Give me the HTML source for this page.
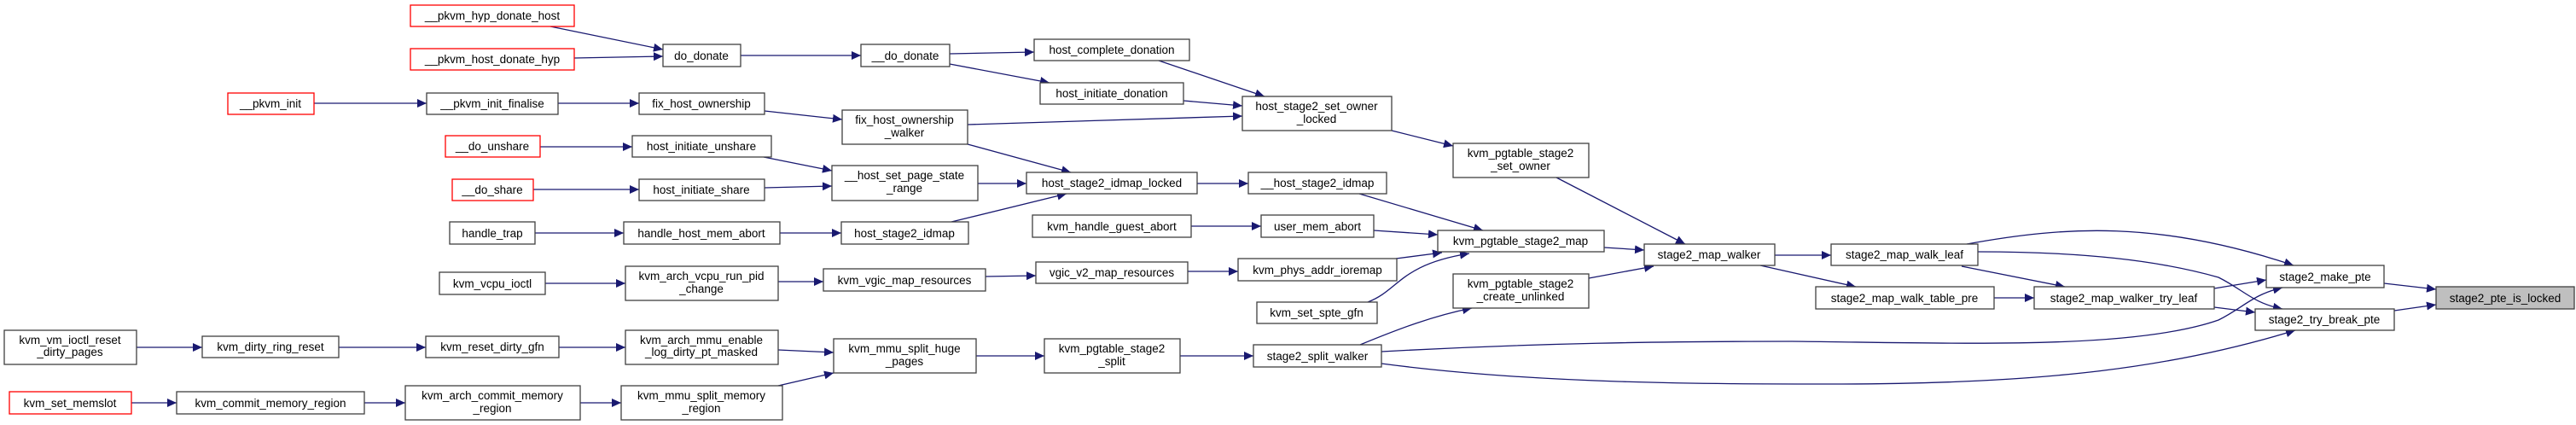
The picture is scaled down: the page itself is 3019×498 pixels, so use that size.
<!DOCTYPE html>
<html><head><meta charset="utf-8"><style>
html,body{margin:0;padding:0;background:#fff;}
svg{display:block}
text{font-family:"Liberation Sans",sans-serif;font-size:13.5px;fill:#000;text-anchor:middle}
.b{fill:#fff;stroke:#404040;stroke-width:1.3}
.r{fill:#fff;stroke:#ff0000;stroke-width:1.3}
.g{fill:#bfbfbf;stroke:#404040;stroke-width:1.3}
.e{fill:none;stroke:#191970;stroke-width:1.3;marker-end:url(#a)}
</style></head><body>
<svg width="3019" height="498" viewBox="0 0 3019 498" xmlns="http://www.w3.org/2000/svg">
<defs><marker id="a" markerUnits="userSpaceOnUse" markerWidth="12" markerHeight="10" refX="11" refY="5" orient="auto"><path d="M0,0 L11,5 L0,10 z" fill="#191970"/></marker></defs>
<g>
<path class="e" d="M645,31 L777,58"/>
<path class="e" d="M673,68 L777,66"/>
<path class="e" d="M368,121 L500,121"/>
<path class="e" d="M654,121 L749,121"/>
<path class="e" d="M633,172 L741,172"/>
<path class="e" d="M625,222 L749,222"/>
<path class="e" d="M627,273 L731,273"/>
<path class="e" d="M639,332 L733,332"/>
<path class="e" d="M160,407 L237,407"/>
<path class="e" d="M397,407 L499,407"/>
<path class="e" d="M655,407 L733,407"/>
<path class="e" d="M154,472 L207,472"/>
<path class="e" d="M427,472 L475,472"/>
<path class="e" d="M680,472 L728,472"/>
<path class="e" d="M868,65 L1009,65"/>
<path class="e" d="M1113,63 L1212,61"/>
<path class="e" d="M1113,75 L1230,97"/>
<path class="e" d="M1358,71 L1482,113"/>
<path class="e" d="M1387,118 L1456,124"/>
<path class="e" d="M1134,146 L1456,136"/>
<path class="e" d="M896,130 L987,140"/>
<path class="e" d="M1134,169 L1255,202"/>
<path class="e" d="M895,184 L975,200"/>
<path class="e" d="M896,220 L975,218"/>
<path class="e" d="M1146,215 L1203,215"/>
<path class="e" d="M1115,260 L1250,227"/>
<path class="e" d="M914,273 L986,273"/>
<path class="e" d="M1403,215 L1463,215"/>
<path class="e" d="M1593,227 L1738,270"/>
<path class="e" d="M1396,265 L1478,265"/>
<path class="e" d="M1610,270 L1685,275"/>
<path class="e" d="M1636,303 L1690,296"/>
<path class="e" d="M1603,354 C1640,340 1640,310 1722,297"/>
<path class="e" d="M912,330 L965,330"/>
<path class="e" d="M1155,324 L1214,323"/>
<path class="e" d="M1392,318 L1451,318"/>
<path class="e" d="M1631,153 L1703,171"/>
<path class="e" d="M1824,208 L1975,286"/>
<path class="e" d="M1880,290 L1927,293"/>
<path class="e" d="M1862,326 L1938,312"/>
<path class="e" d="M2080,299 L2146,299"/>
<path class="e" d="M2063,311 L2175,336"/>
<path class="e" d="M1594,404 C1640,385 1680,370 1725,361"/>
<path class="e" d="M912,410 L977,413"/>
<path class="e" d="M912,452 L977,437"/>
<path class="e" d="M1144,417 L1224,417"/>
<path class="e" d="M1383,417 L1469,417"/>
<path class="e" d="M2305,286 C2420,265 2530,258 2688,311"/>
<path class="e" d="M2318,295 C2440,295 2530,305 2600,325 C2630,340 2640,355 2675,362"/>
<path class="e" d="M2299,312 L2420,336"/>
<path class="e" d="M2337,349 L2384,349"/>
<path class="e" d="M2595,338 L2656,328"/>
<path class="e" d="M2595,360 L2643,366"/>
<path class="e" d="M1619,412 C1800,402 1950,400 2100,400 C2300,402 2500,410 2600,375 C2630,360 2640,345 2675,337"/>
<path class="e" d="M1619,426 C1800,450 2000,450 2150,450 C2400,450 2550,430 2690,387"/>
<path class="e" d="M2794,332 L2855,339"/>
<path class="e" d="M2806,364 L2855,357"/>
</g>
<g>
<rect class="r" x="481" y="6" width="192" height="25"/><text x="577" y="23">__pkvm_hyp_donate_host</text>
<rect class="r" x="481" y="57" width="192" height="25"/><text x="577" y="74">__pkvm_host_donate_hyp</text>
<rect class="r" x="267" y="109" width="101" height="25"/><text x="317" y="126">__pkvm_init</text>
<rect class="b" x="500" y="109" width="154" height="25"/><text x="577" y="126">__pkvm_init_finalise</text>
<rect class="r" x="522" y="159" width="111" height="25"/><text x="577" y="176">__do_unshare</text>
<rect class="r" x="530" y="210" width="95" height="25"/><text x="577" y="227">__do_share</text>
<rect class="b" x="527" y="260" width="100" height="26"/><text x="577" y="278">handle_trap</text>
<rect class="b" x="515" y="319" width="124" height="26"/><text x="577" y="337">kvm_vcpu_ioctl</text>
<rect class="b" x="5" y="387" width="155" height="40"/><text x="82" y="403">kvm_vm_ioctl_reset</text><text x="82" y="417">_dirty_pages</text>
<rect class="b" x="237" y="394" width="160" height="25"/><text x="317" y="411">kvm_dirty_ring_reset</text>
<rect class="b" x="499" y="394" width="156" height="25"/><text x="577" y="411">kvm_reset_dirty_gfn</text>
<rect class="r" x="11" y="459" width="143" height="26"/><text x="82" y="477">kvm_set_memslot</text>
<rect class="b" x="207" y="459" width="220" height="26"/><text x="317" y="477">kvm_commit_memory_region</text>
<rect class="b" x="475" y="452" width="205" height="40"/><text x="577" y="468">kvm_arch_commit_memory</text><text x="577" y="483">_region</text>
<rect class="b" x="777" y="52" width="91" height="26"/><text x="822" y="70">do_donate</text>
<rect class="b" x="1009" y="52" width="104" height="26"/><text x="1061" y="70">__do_donate</text>
<rect class="b" x="1212" y="46" width="182" height="25"/><text x="1303" y="63">host_complete_donation</text>
<rect class="b" x="1219" y="97" width="168" height="25"/><text x="1303" y="114">host_initiate_donation</text>
<rect class="b" x="1456" y="113" width="175" height="40"/><text x="1543" y="129">host_stage2_set_owner</text><text x="1543" y="144">_locked</text>
<rect class="b" x="749" y="109" width="147" height="25"/><text x="822" y="126">fix_host_ownership</text>
<rect class="b" x="987" y="129" width="147" height="40"/><text x="1060" y="145">fix_host_ownership</text><text x="1060" y="160">_walker</text>
<rect class="b" x="741" y="159" width="163" height="25"/><text x="822" y="176">host_initiate_unshare</text>
<rect class="b" x="975" y="194" width="171" height="41"/><text x="1060" y="210">__host_set_page_state</text><text x="1060" y="225">_range</text>
<rect class="b" x="749" y="210" width="147" height="25"/><text x="822" y="227">host_initiate_share</text>
<rect class="b" x="1203" y="202" width="200" height="25"/><text x="1303" y="219">host_stage2_idmap_locked</text>
<rect class="b" x="1463" y="202" width="162" height="25"/><text x="1544" y="219">__host_stage2_idmap</text>
<rect class="b" x="731" y="260" width="183" height="26"/><text x="822" y="278">handle_host_mem_abort</text>
<rect class="b" x="986" y="260" width="149" height="26"/><text x="1060" y="278">host_stage2_idmap</text>
<rect class="b" x="1210" y="252" width="186" height="26"/><text x="1303" y="270">kvm_handle_guest_abort</text>
<rect class="b" x="1478" y="252" width="132" height="26"/><text x="1544" y="270">user_mem_abort</text>
<rect class="b" x="733" y="312" width="179" height="40"/><text x="822" y="328">kvm_arch_vcpu_run_pid</text><text x="822" y="343">_change</text>
<rect class="b" x="965" y="315" width="190" height="26"/><text x="1060" y="333">kvm_vgic_map_resources</text>
<rect class="b" x="1214" y="307" width="178" height="25"/><text x="1303" y="324">vgic_v2_map_resources</text>
<rect class="b" x="1451" y="303" width="186" height="26"/><text x="1544" y="321">kvm_phys_addr_ioremap</text>
<rect class="b" x="1473" y="354" width="141" height="25"/><text x="1543" y="371">kvm_set_spte_gfn</text>
<rect class="b" x="733" y="387" width="179" height="40"/><text x="822" y="403">kvm_arch_mmu_enable</text><text x="822" y="417">_log_dirty_pt_masked</text>
<rect class="b" x="977" y="397" width="167" height="40"/><text x="1060" y="413">kvm_mmu_split_huge</text><text x="1060" y="428">_pages</text>
<rect class="b" x="1224" y="397" width="159" height="40"/><text x="1303" y="413">kvm_pgtable_stage2</text><text x="1303" y="428">_split</text>
<rect class="b" x="1469" y="404" width="150" height="26"/><text x="1544" y="422">stage2_split_walker</text>
<rect class="b" x="728" y="452" width="189" height="40"/><text x="822" y="468">kvm_mmu_split_memory</text><text x="822" y="483">_region</text>
<rect class="b" x="1703" y="168" width="159" height="40"/><text x="1782" y="184">kvm_pgtable_stage2</text><text x="1782" y="199">_set_owner</text>
<rect class="b" x="1685" y="270" width="195" height="25"/><text x="1782" y="287">kvm_pgtable_stage2_map</text>
<rect class="b" x="1927" y="286" width="153" height="25"/><text x="2003" y="303">stage2_map_walker</text>
<rect class="b" x="1703" y="321" width="159" height="40"/><text x="1782" y="337">kvm_pgtable_stage2</text><text x="1782" y="352">_create_unlinked</text>
<rect class="b" x="2146" y="286" width="172" height="25"/><text x="2232" y="303">stage2_map_walk_leaf</text>
<rect class="b" x="2128" y="336" width="209" height="26"/><text x="2232" y="354">stage2_map_walk_table_pre</text>
<rect class="b" x="2384" y="336" width="211" height="26"/><text x="2489" y="354">stage2_map_walker_try_leaf</text>
<rect class="b" x="2656" y="311" width="138" height="26"/><text x="2725" y="329">stage2_make_pte</text>
<rect class="b" x="2643" y="362" width="163" height="25"/><text x="2724" y="379">stage2_try_break_pte</text>
<rect class="g" x="2855" y="336" width="162" height="26"/><text x="2936" y="354">stage2_pte_is_locked</text>
</g>
</svg>
</body></html>
